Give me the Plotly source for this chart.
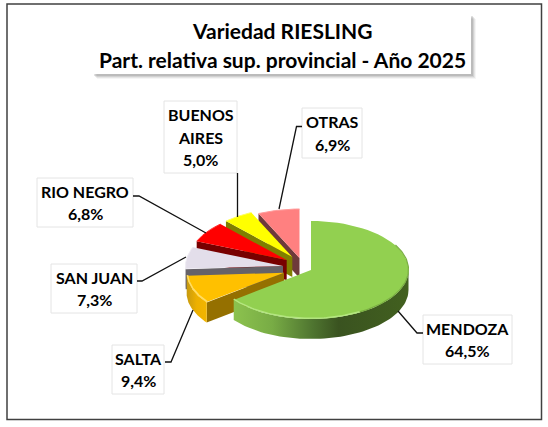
import numpy as np
import plotly.graph_objects as go

provinces = ["MENDOZA", "SALTA", "SAN JUAN", "RIO NEGRO", "BUENOS<br>AIRES", "OTRAS"]
shares = [64.5, 9.4, 7.3, 6.8, 5.0, 6.9]
share_labels = ["64,5%", "9,4%", "7,3%", "6,8%", "5,0%", "6,9%"]
title_lines = ["Variedad RIESLING", "Part. relativa sup. provincial - Año 2025"]

top_colors = ["#92D050", "#FFC000", "#E3DEEA", "#FF0000", "#FFFF00", "#FF8080"]
cut_colors = ["#4A6B28", "#957000", "#666268", "#780000", "#7F7F00", "#6E3A3A"]
rim_colors = ["#B4E680", "#FFDD66", "#EEEAF2", "#FF3030", "#FFFF60", "#FF9C9C"]

CX, CY, RX, RY, DEPTH = 311, 270, 97.5, 49, 20
explode = [(0, 0), (-27, 2.7), (-28, -4), (-24.3, -10), (-18.7, -13), (-11.5, -12)]
# label boxes: x0, y0, x1, y1
label_boxes = [
    (423, 315, 512, 364),
    (112, 345, 164, 394),
    (51, 264, 137, 313),
    (37, 178, 133, 227),
    (164, 101, 237, 173),
    (302, 108, 362, 158),
]
LINE_GAP = 22.5
leaders = [
    ([423, 417, 398], [333, 333, 311]),
    ([165, 171, 193], [362, 362, 310]),
    ([137, 142, 186], [281, 281, 257]),
    ([133, 139, 206], [196, 196, 233]),
    ([237.5, 237.5], [173, 217]),
    ([302, 296.5, 279], [126.5, 126.5, 209]),
]

fracs = np.array(shares) / np.sum(shares) * 360
ends = np.cumsum(fracs)
starts = ends - fracs

fig = go.Figure()


def arc(cx, cy, a0, a1, n=60):
    t = np.radians(np.linspace(a0, a1, n))
    return cx + RX * np.sin(t), cy - RY * np.cos(t)


def poly(x, y, color=None, gradient=None):
    kw = dict(x=list(x), y=list(y), mode="lines", fill="toself", hoverinfo="skip",
              showlegend=False, line=dict(width=0))
    if gradient:
        kw["fillgradient"] = gradient
    else:
        kw["fillcolor"] = color
    fig.add_trace(go.Scatter(**kw))


def rim(x, y, color, width):
    fig.add_trace(go.Scatter(x=x, y=y, mode="lines", hoverinfo="skip", showlegend=False,
                             line=dict(color=color, width=width)))


fig.add_shape(type="rect", x0=7, y0=4, x1=541.5, y1=419.5, line=dict(color="#404040", width=1.5),
              fillcolor="white", layer="below")
for g, a in [(5, 0.06), (4, 0.10), (3, 0.14), (2, 0.18)]:
    fig.add_shape(type="rect", x0=92 + g, y0=14 + g, x1=471 + g, y1=74 + g, line=dict(width=0),
                  fillcolor=f"rgba(90,90,90,{a})", layer="below")
fig.add_shape(type="rect", x0=92, y0=14, x1=471, y1=74, line=dict(width=0), fillcolor="white",
              layer="below")

for i in [5, 4, 3, 2, 1, 0]:
    dx, dy = explode[i]
    cx, cy = CX + dx, CY + dy
    a0, a1 = starts[i], ends[i]
    if i > 0:
        ox, oy = arc(cx, cy, a0, a0, 1)
        poly([cx, ox[0], ox[0], cx, cx], [cy, oy[0], oy[0] + DEPTH, cy + DEPTH, cy], cut_colors[i])
    w0, w1 = max(a0, 90), min(a1, 270)
    if w1 > w0:
        ax, ay = arc(cx, cy, w0, w1)
        wx = np.r_[ax, ax[::-1], ax[0]]
        wy = np.r_[ay, ay[::-1] + DEPTH, ay[0]]
        if i == 0:
            grad = dict(type="horizontal", colorscale=[
                [0, "#8CC24E"], [0.22, "#78AC45"], [0.45, "#4F7530"], [0.6, "#3A5320"], [1, "#42601F"]])
            poly(wx, wy, gradient=grad)
        elif i == 1:
            grad = dict(type="horizontal", colorscale=[[0, "#C79A10"], [0.5, "#EDB000"], [1, "#F2B500"]])
            poly(wx, wy, gradient=grad)
        else:
            poly(wx, wy, cut_colors[i])
    ax, ay = arc(cx, cy, a0, a1)
    poly(np.r_[cx, ax, cx], np.r_[cy, ay, cy], top_colors[i])
    if i == 0:
        bx, by = arc(cx, cy, 150, a1)
        rim(bx, by - 0.7, rim_colors[i], 1.4)
        dx2, dy2 = arc(cx, cy, 60, 150)
        rim(dx2, dy2 - 0.5, "#7AAE42", 1.2)
    elif i == 1:
        rim(ax + 0.7, ay - 0.7, rim_colors[i], 1.6)
    else:
        rim(ax, ay, rim_colors[i], 1)

for lx, ly in leaders:
    rim(lx, ly, "#111111", 1.3)

for name, share, (x0, y0, x1, y1) in zip(provinces, share_labels, label_boxes):
    fig.add_shape(type="rect", x0=x0, y0=y0, x1=x1, y1=y1, line=dict(color="#E4E4E4", width=1),
                  fillcolor="white", layer="between")
    lines = name.split("<br>") + [share]
    mid = (y0 + y1) / 2
    for k, text in enumerate(lines):
        fig.add_annotation(x=(x0 + x1) / 2, y=mid + (k - (len(lines) - 1) / 2) * LINE_GAP,
                           text=f"<b>{text}</b>", showarrow=False,
                           font=dict(family="Lato", size=16, color="#000000"))

for text, y in zip(title_lines, [30, 59]):
    fig.add_annotation(x=282, y=y, text=f"<b>{text}</b>", showarrow=False,
                       font=dict(family="Lato", size=21, color="#000000"))

fig.update_layout(
    width=548, height=427, margin=dict(l=0, r=0, t=0, b=0), showlegend=False,
    paper_bgcolor="white", plot_bgcolor="white",
    xaxis=dict(range=[0, 548], visible=False, fixedrange=True),
    yaxis=dict(range=[427, 0], visible=False, fixedrange=True),
)
fig.write_html("out.html", config=dict(displayModeBar=False),
               post_script="document.body.style.margin='0';")
